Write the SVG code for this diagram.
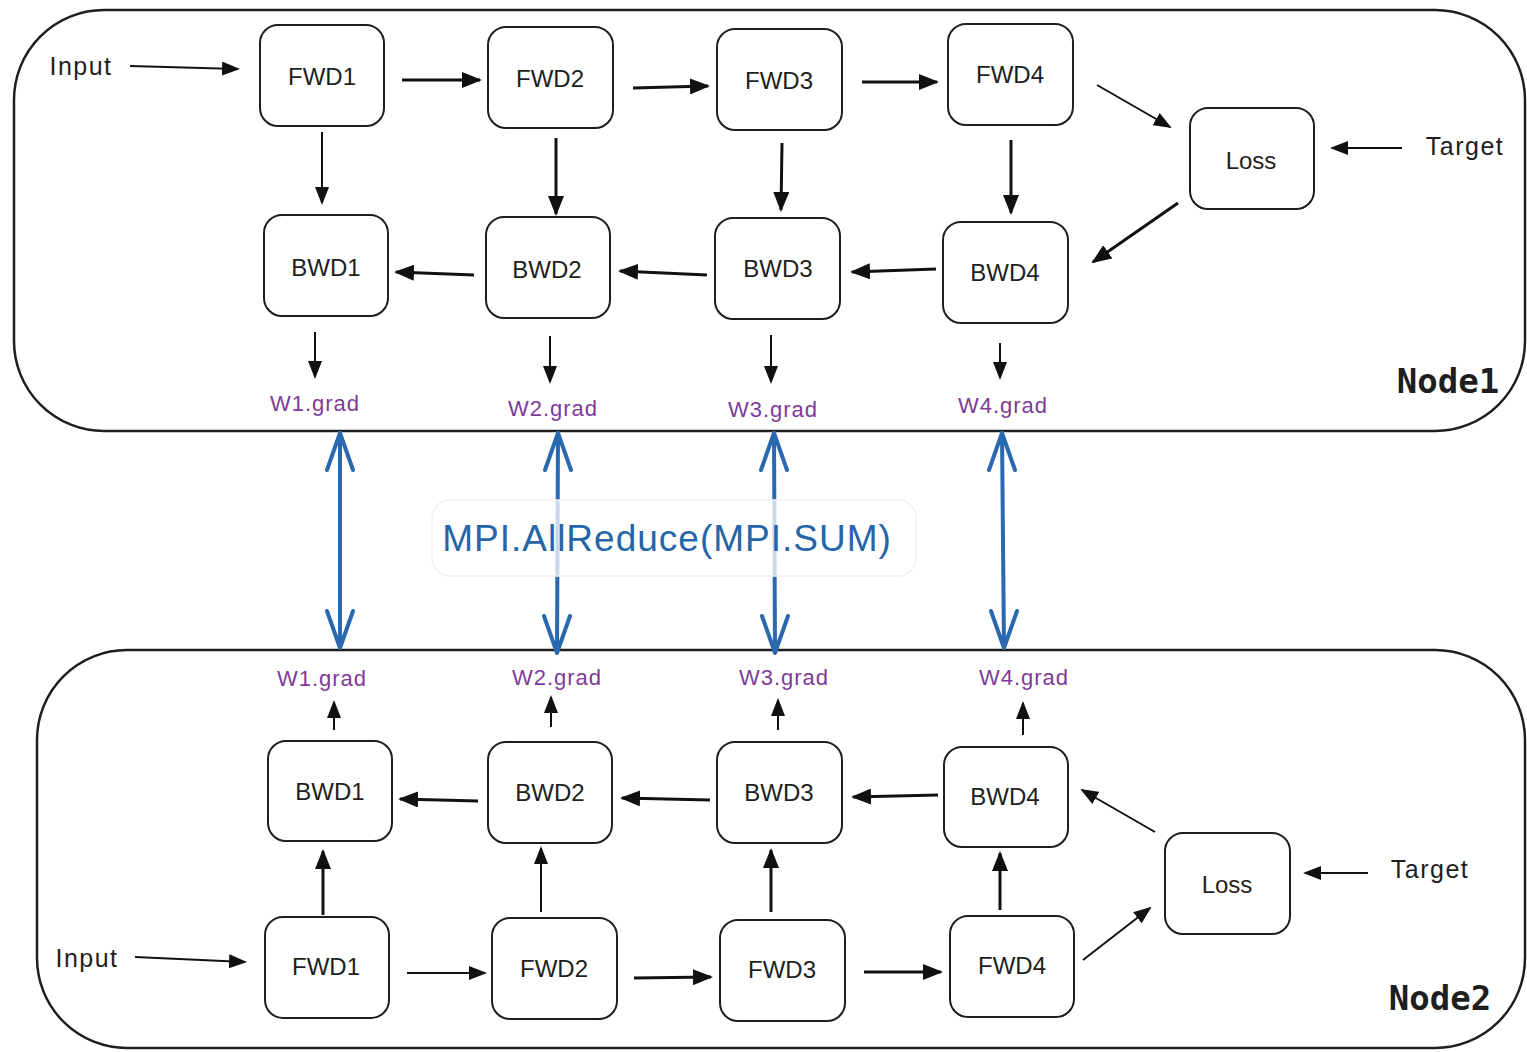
<svg xmlns="http://www.w3.org/2000/svg" width="1527" height="1052" viewBox="0 0 1527 1052">
  <defs>
    <style>
      .frame { fill: none; stroke: #1e1e1e; stroke-width: 2.5; }
      .box { fill: #ffffff; stroke: #1e1e1e; stroke-width: 2; }
      .lbl { font-family: "Liberation Sans", Arial, sans-serif; font-size: 24px; fill: #1e1e1e; text-anchor: middle; dominant-baseline: central; }
      .io { font-family: "Liberation Sans", Arial, sans-serif; font-size: 25px; letter-spacing: 1.5px; fill: #1e1e1e; text-anchor: middle; dominant-baseline: central; }
      .grad { font-family: "Liberation Sans", Arial, sans-serif; font-size: 22px; letter-spacing: 1px; fill: #7e3b98; text-anchor: middle; dominant-baseline: central; }
      .host { font-family: "DejaVu Sans Mono", monospace; font-size: 34px; font-weight: bold; fill: #1e1e1e; text-anchor: middle; dominant-baseline: central; }
      .mpi { font-family: "Liberation Sans", Arial, sans-serif; font-size: 37px; letter-spacing: 1px; fill: #2565a8; text-anchor: middle; dominant-baseline: central; }
      .a { fill: none; stroke: #111; stroke-width: 3; marker-end: url(#head); }
      .t { fill: none; stroke: #111; stroke-width: 2; marker-end: url(#headS); }
      .sync { fill: none; stroke: #2a69b0; stroke-width: 4; stroke-linecap: round; stroke-linejoin: round; }
    </style>
    <marker id="head" viewBox="0 0 20 16" refX="18" refY="8" markerWidth="20" markerHeight="16" markerUnits="userSpaceOnUse" orient="auto">
      <path d="M0,0 L20,8 L0,16 Z" fill="#111"/>
    </marker>
    <marker id="headS" viewBox="0 0 18 14" refX="16" refY="7" markerWidth="18" markerHeight="14" markerUnits="userSpaceOnUse" orient="auto">
      <path d="M0,0 L18,7 L0,14 Z" fill="#111"/>
    </marker>
  </defs>

  <rect width="1527" height="1052" fill="#ffffff"/>

  <!-- host frames -->
  <g id="node1">
    <rect class="frame" x="14" y="10" width="1511" height="421" rx="90"/>
    <text class="host" x="1448" y="381">Node1</text>
  </g>
  <g id="node2">
    <rect class="frame" x="37" y="650" width="1488" height="398" rx="90"/>
    <text class="host" x="1440" y="998">Node2</text>
  </g>

  <!-- Node1 stages -->
  <g id="n1-fwd1"><rect class="box" x="260" y="25" width="124" height="101" rx="18"/><text class="lbl" x="322" y="76">FWD1</text></g>
  <g id="n1-fwd2"><rect class="box" x="488" y="27" width="125" height="101" rx="18"/><text class="lbl" x="550" y="78">FWD2</text></g>
  <g id="n1-fwd3"><rect class="box" x="717" y="29" width="125" height="101" rx="18"/><text class="lbl" x="779" y="80">FWD3</text></g>
  <g id="n1-fwd4"><rect class="box" x="948" y="24" width="125" height="101" rx="18"/><text class="lbl" x="1010" y="74">FWD4</text></g>
  <g id="n1-bwd1"><rect class="box" x="264" y="215" width="124" height="101" rx="18"/><text class="lbl" x="326" y="267">BWD1</text></g>
  <g id="n1-bwd2"><rect class="box" x="486" y="217" width="124" height="101" rx="18"/><text class="lbl" x="547" y="269">BWD2</text></g>
  <g id="n1-bwd3"><rect class="box" x="715" y="218" width="125" height="101" rx="18"/><text class="lbl" x="778" y="268">BWD3</text></g>
  <g id="n1-bwd4"><rect class="box" x="943" y="222" width="125" height="101" rx="18"/><text class="lbl" x="1005" y="272">BWD4</text></g>
  <g id="n1-loss"><rect class="box" x="1190" y="108" width="124" height="101" rx="18"/><text class="lbl" x="1251" y="160">Loss</text></g>
  <g id="n1-input"><text class="io" x="81" y="66">Input</text></g>
  <g id="n1-target"><text class="io" x="1465" y="146">Target</text></g>
  <g id="n1-w1"><text class="grad" x="315" y="403">W1.grad</text></g>
  <g id="n1-w2"><text class="grad" x="553" y="408">W2.grad</text></g>
  <g id="n1-w3"><text class="grad" x="773" y="409">W3.grad</text></g>
  <g id="n1-w4"><text class="grad" x="1003" y="405">W4.grad</text></g>

  <!-- Node2 stages -->
  <g id="n2-bwd1"><rect class="box" x="268" y="741" width="124" height="100" rx="18"/><text class="lbl" x="330" y="791">BWD1</text></g>
  <g id="n2-bwd2"><rect class="box" x="488" y="742" width="124" height="101" rx="18"/><text class="lbl" x="550" y="792">BWD2</text></g>
  <g id="n2-bwd3"><rect class="box" x="717" y="742" width="125" height="101" rx="18"/><text class="lbl" x="779" y="792">BWD3</text></g>
  <g id="n2-bwd4"><rect class="box" x="944" y="747" width="124" height="100" rx="18"/><text class="lbl" x="1005" y="796">BWD4</text></g>
  <g id="n2-fwd1"><rect class="box" x="265" y="917" width="124" height="101" rx="18"/><text class="lbl" x="326" y="966">FWD1</text></g>
  <g id="n2-fwd2"><rect class="box" x="492" y="918" width="125" height="101" rx="18"/><text class="lbl" x="554" y="968">FWD2</text></g>
  <g id="n2-fwd3"><rect class="box" x="720" y="920" width="125" height="101" rx="18"/><text class="lbl" x="782" y="969">FWD3</text></g>
  <g id="n2-fwd4"><rect class="box" x="950" y="916" width="124" height="101" rx="18"/><text class="lbl" x="1012" y="965">FWD4</text></g>
  <g id="n2-loss"><rect class="box" x="1165" y="833" width="125" height="101" rx="18"/><text class="lbl" x="1227" y="884">Loss</text></g>
  <g id="n2-input"><text class="io" x="87" y="958">Input</text></g>
  <g id="n2-target"><text class="io" x="1430" y="869">Target</text></g>
  <g id="n2-w1"><text class="grad" x="322" y="678">W1.grad</text></g>
  <g id="n2-w2"><text class="grad" x="557" y="677">W2.grad</text></g>
  <g id="n2-w3"><text class="grad" x="784" y="677">W3.grad</text></g>
  <g id="n2-w4"><text class="grad" x="1024" y="677">W4.grad</text></g>

  <!-- connectors -->
  <g id="connectors">
    <!-- Node1 forward chain -->
    <path class="t" d="M130,66 L238,69"/>
    <path class="a" d="M402,80 L480,80"/>
    <path class="a" d="M633,88 L708,86"/>
    <path class="a" d="M862,82 L937,82"/>
    <path class="t" d="M1097,85 L1170,127"/>
    <path class="t" d="M1402,148 L1332,148"/>
    <path class="a" d="M1178,203 L1093,262"/>
    <!-- Node1 forward to backward -->
    <path class="t" d="M322,132 L322,203"/>
    <path class="a" d="M556,138 L556,214"/>
    <path class="a" d="M782,143 L781,210"/>
    <path class="a" d="M1011,140 L1011,213"/>
    <!-- Node1 backward chain -->
    <path class="a" d="M474,275 L396,272"/>
    <path class="a" d="M707,275 L620,271"/>
    <path class="a" d="M936,269 L852,272"/>
    <!-- Node1 gradients out -->
    <path class="t" d="M315,332 L315,377"/>
    <path class="t" d="M550,336 L550,382"/>
    <path class="t" d="M771,335 L771,382"/>
    <path class="t" d="M1000,343 L1000,378"/>

    <!-- Node2 forward chain -->
    <path class="t" d="M135,957 L245,962"/>
    <path class="t" d="M407,973 L485,973"/>
    <path class="a" d="M634,978 L711,977"/>
    <path class="a" d="M864,972 L941,972"/>
    <path class="t" d="M1083,960 L1150,908"/>
    <path class="t" d="M1368,873 L1305,873"/>
    <path class="t" d="M1155,832 L1082,790"/>
    <!-- Node2 forward to backward -->
    <path class="a" d="M323,915 L323,851"/>
    <path class="t" d="M541,912 L541,848"/>
    <path class="a" d="M771,912 L771,850"/>
    <path class="a" d="M1000,910 L1000,853"/>
    <!-- Node2 backward chain -->
    <path class="a" d="M478,801 L400,799"/>
    <path class="a" d="M710,800 L622,798"/>
    <path class="a" d="M938,795 L853,797"/>
    <!-- Node2 gradients out -->
    <path class="t" d="M334,730 L334,702"/>
    <path class="t" d="M551,727 L551,697"/>
    <path class="t" d="M778,730 L778,700"/>
    <path class="t" d="M1023,735 L1023,703"/>

    <!-- cross-host gradient sync -->
    <path class="sync" d="M340,433 L340,648 M327,470 L340,433 L353,470 M327,611 L340,648 L353,611"/>
    <path class="sync" d="M558,433 L557,653 M545,470 L558,433 L571,470 M544,616 L557,653 L570,616"/>
    <path class="sync" d="M774,433 L775,653 M761,470 L774,433 L787,470 M762,616 L775,653 L788,616"/>
    <path class="sync" d="M1002,433 L1004,648 M989,470 L1002,433 L1015,470 M991,611 L1004,648 L1017,611"/>
  </g>

  <!-- collective label over the sync arrows -->
  <g id="allreduce">
    <rect x="432" y="500" width="484" height="76" rx="18" fill="#ffffff" fill-opacity="0.75" stroke="#eef2f6" stroke-width="1.5"/>
    <text class="mpi" x="667" y="538">MPI.AllReduce(MPI.SUM)</text>
  </g>
</svg>
